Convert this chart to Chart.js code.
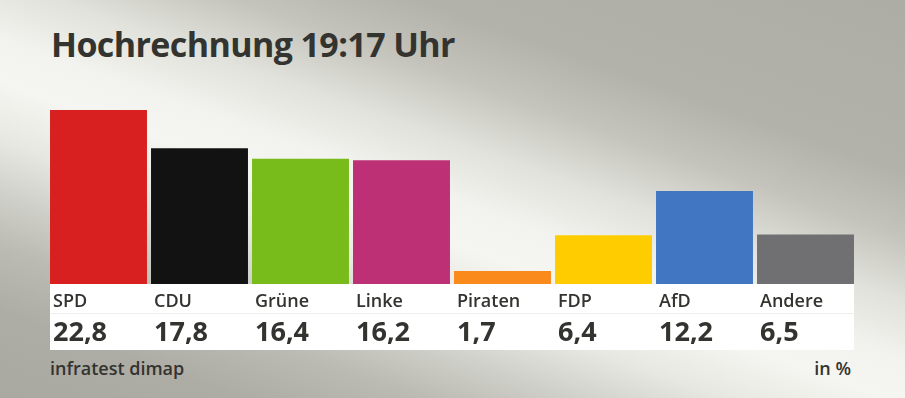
<!DOCTYPE html>
<html>
<head>
<meta charset="utf-8">
<script src="https://cdn.jsdelivr.net/npm/chart.js@4.4.1/dist/chart.umd.min.js"></script>
<style>
  html, body { margin: 0; padding: 0; }
  body {
    width: 905px; height: 398px; overflow: hidden; position: relative;
    background: linear-gradient(199.6deg,
      #adada5 0%, #b2b2aa 24%, #c4c4bd 33%, #e2e2dc 42%, #f2f2ee 50%, #f5f6f1 56%,
      #e8e8e2 64%, #cfcfc9 72%, #bbbbb3 79%, #adada5 88%, #a9a9a1 100%);
    font-family: "Open Sans", sans-serif;
  }
  #title {
    position: absolute; left: 51px; top: 27px; margin: 0;
    font-size: 34px; line-height: 34px; font-weight: 700; color: #333330;
    letter-spacing: -0.6px; white-space: nowrap;
  }
  .foot {
    position: absolute; top: 359px; font-size: 18px; line-height: 18px;
    font-weight: 600; color: #333330; white-space: nowrap;
  }
  #src { left: 50px; }
  #unit { right: 54px; }
  #c { position: absolute; left: 0; top: 0; }
</style>
</head>
<body>
<h1 id="title">Hochrechnung 19:17 Uhr</h1>
<div class="foot" id="src">infratest dimap</div>
<div class="foot" id="unit">in %</div>
<canvas id="c" width="905" height="398"></canvas>
<script>
const categories = ['SPD', 'CDU', 'Grüne', 'Linke', 'Piraten', 'FDP', 'AfD', 'Andere'];
const values = [22.8, 17.8, 16.4, 16.2, 1.7, 6.4, 12.2, 6.5];
const barColors = ['#d7201f', '#121212', '#78bc1b', '#bd3076', '#fb8a1c', '#ffcc00', '#4176c2', '#707073'];
const yMax = 22.8;

const fmt = v => v.toFixed(1).replace('.', ',');

const whiteBox = {
  id: 'whiteBox',
  beforeDraw(chart) {
    const { ctx, chartArea } = chart;
    const bars = chart.getDatasetMeta(0).data;
    if (!bars.length) return;
    const first = bars[0], last = bars[bars.length - 1];
    const x0 = Math.round(first.x - first.width / 2);
    const x1 = Math.round(last.x + last.width / 2);
    ctx.save();
    ctx.fillStyle = '#ffffff';
    ctx.fillRect(x0, chartArea.bottom, x1 - x0, 66);
    ctx.strokeStyle = '#eeeeee';
    ctx.lineWidth = 1;
    ctx.beginPath();
    ctx.moveTo(x0, chartArea.bottom + 29.5);
    ctx.lineTo(x1, chartArea.bottom + 29.5);
    ctx.stroke();
    ctx.restore();
  }
};

function build() {
  new Chart(document.getElementById('c'), {
    type: 'bar',
    data: {
      labels: categories,
      datasets: [{
        data: values,
        backgroundColor: barColors,
        borderWidth: 0,
        barPercentage: 0.96,
        categoryPercentage: 1.0,
        xAxisID: 'x',
        yAxisID: 'y'
      }]
    },
    options: {
      responsive: false,
      animation: false,
      events: [],
      layout: { padding: { left: 48, right: 49, top: 110, bottom: 48 } },
      plugins: { legend: { display: false }, tooltip: { enabled: false }, title: { display: false } },
      scales: {
        y: { display: false, min: 0, max: yMax },
        x: {
          type: 'category',
          position: 'bottom',
          weight: 0,
          grid: { display: false, drawTicks: false },
          border: { display: false },
          ticks: {
            align: 'start',
            labelOffset: -45.5,
            padding: 7,
            maxRotation: 0,
            autoSkip: false,
            color: '#333330',
            font: { family: 'Open Sans', size: 18, weight: '600' }
          },
          afterFit(s) { s.height = 29; }
        },
        x2: {
          type: 'category',
          position: 'bottom',
          weight: 1,
          labels: categories,
          grid: { display: false, drawTicks: false },
          border: { display: false },
          ticks: {
            align: 'start',
            labelOffset: -45.5,
            padding: 4,
            maxRotation: 0,
            autoSkip: false,
            color: '#333330',
            font: { family: 'Open Sans', size: 27, weight: '700' },
            callback: (v, i) => fmt(values[i])
          },
          afterFit(s) { s.height = 37; }
        }
      }
    },
    plugins: [whiteBox]
  });
}

Promise.all([
  document.fonts.load('600 18px "Open Sans"'),
  document.fonts.load('700 27px "Open Sans"')
]).then(build, build);
</script>
</body>
</html>
